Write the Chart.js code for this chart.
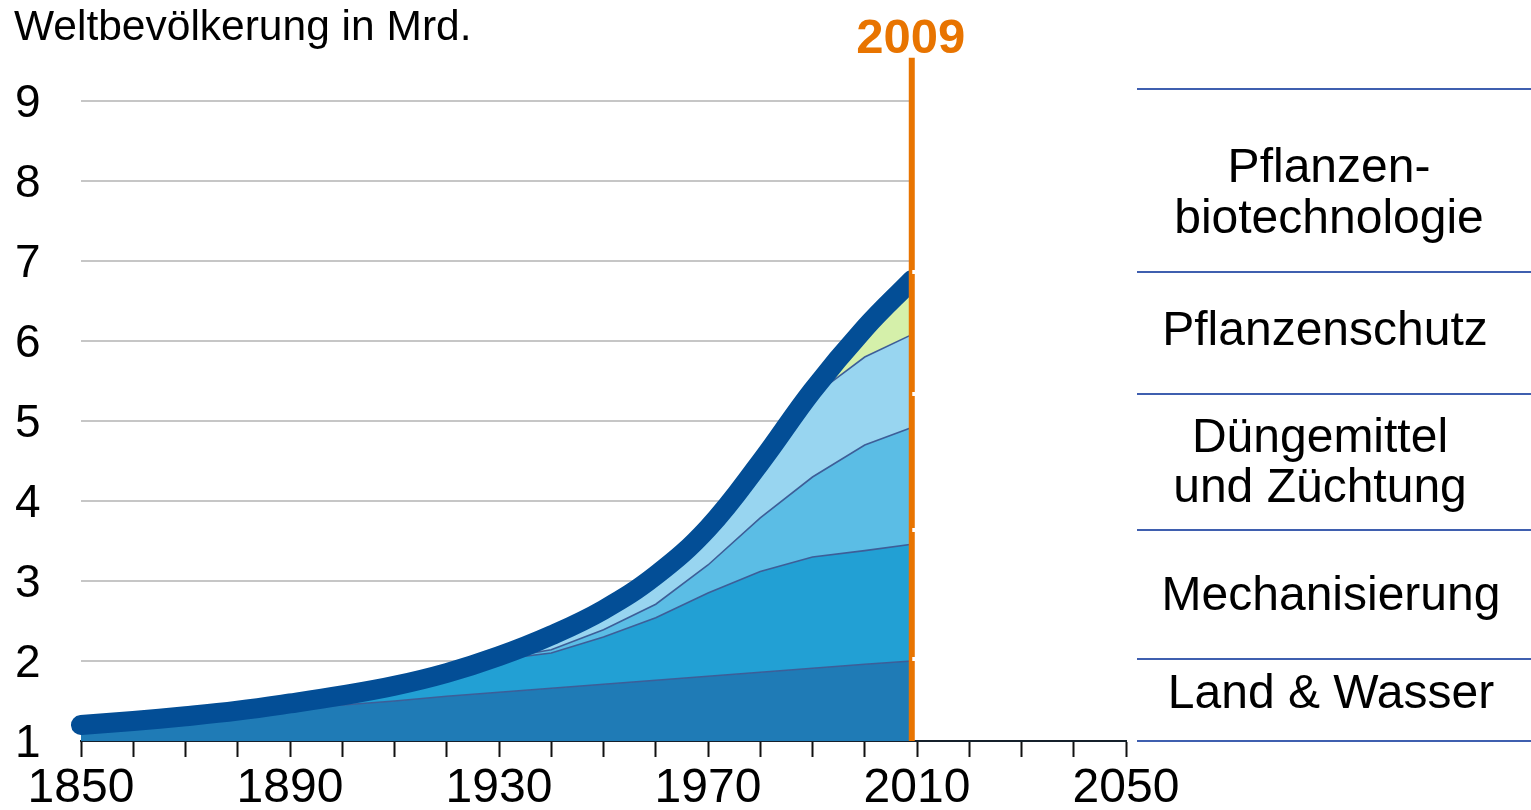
<!DOCTYPE html>
<html>
<head>
<meta charset="utf-8">
<script src="https://cdn.jsdelivr.net/npm/chart.js@4.4.1/dist/chart.umd.min.js"></script>
<style>
  html, body { margin: 0; padding: 0; background: #ffffff; }
  canvas { display: block; }
</style>
</head>
<body>
<canvas id="c" width="1531" height="810"></canvas>
<script>
// ---------------- data ----------------
const chartTitle = 'Weltbevölkerung in Mrd.';
const years = [1850, 1860, 1870, 1880, 1890, 1900, 1910, 1920, 1930, 1940, 1950, 1960, 1970, 1980, 1990, 2000, 2009];

// world population (thick line, Mrd.)
const population = [1.20, 1.25, 1.31, 1.38, 1.47, 1.57, 1.69, 1.85, 2.06, 2.32, 2.64, 3.07, 3.66, 4.48, 5.38, 6.16, 6.76];

// cumulative upper edges of the stacked contributions (Mrd.)
const landWater          = [1.10, 1.16, 1.22, 1.30, 1.40, 1.45, 1.50, 1.56, 1.61, 1.66, 1.71, 1.76, 1.81, 1.86, 1.91, 1.96, 2.00];
const mechanization      = [1.20, 1.25, 1.31, 1.38, 1.47, 1.57, 1.69, 1.85, 2.02, 2.10, 2.30, 2.54, 2.85, 3.12, 3.30, 3.38, 3.46];
const fertilizerBreeding = [1.20, 1.25, 1.31, 1.38, 1.47, 1.57, 1.69, 1.85, 2.03, 2.14, 2.39, 2.71, 3.20, 3.79, 4.30, 4.70, 4.92];
const cropProtection     = [1.20, 1.25, 1.31, 1.38, 1.47, 1.57, 1.69, 1.85, 2.06, 2.32, 2.57, 3.00, 3.55, 4.38, 5.31, 5.80, 6.08];
const plantBiotech       = population; // top of the last layer follows the population

const seriesNames = ['Land & Wasser', 'Mechanisierung', 'Düngemittel und Züchtung', 'Pflanzenschutz', 'Pflanzenbiotechnologie'];
const panelLabels = [['Pflanzen-', 'biotechnologie'], ['Pflanzenschutz'], ['Düngemittel', 'und Züchtung'], ['Mechanisierung'], ['Land & Wasser']];

const xTickYears  = [1850, 1860, 1870, 1880, 1890, 1900, 1910, 1920, 1930, 1940, 1950, 1960, 1970, 1980, 1990, 2000, 2010, 2020, 2030, 2040, 2050];
const xTickLabels = [1850, 1890, 1930, 1970, 2010, 2050];
const yTicks      = [1, 2, 3, 4, 5, 6, 7, 8, 9];
const markerYear  = 2009;
const markerLabel = '2009';

// ---------------- style / layout ----------------
const FONT = "'Liberation Sans', Arial, Helvetica, sans-serif";
const layerColors = ['#1F7BB6', '#22A0D4', '#5BBDE5', '#98D5F0', '#D5F0AA'];
const layerBorder = '#3D5E98';
const popColor = '#034E96';
const orange = '#E87400';
const panel = {
  left: 1137, right: 1531,
  centers: [1329, 1325, 1320, 1331, 1331],
  separators: [89, 272, 394, 530, 659, 741],
  baselines: [[182, 233], [345], [452, 502], [610], [708]],
  font: '48px ' + FONT
};

const toPts = arr => years.map((x, i) => ({ x, y: arr[i] }));
const layers = [landWater, mechanization, fertilizerBreeding, cropProtection, plantBiotech];

const datasets = [{
  label: 'Weltbevölkerung',
  data: toPts(population),
  borderColor: popColor,
  borderWidth: 20,
  borderCapStyle: 'round',
  borderJoinStyle: 'round',
  tension: 0.4,
  fill: false,
  pointRadius: 0,
  clip: false
}];
layers.forEach((arr, i) => {
  datasets.push({
    label: seriesNames[i],
    data: toPts(arr),
    fill: i === 0 ? 'start' : '-1',
    backgroundColor: layerColors[i],
    borderColor: i < 4 ? layerBorder : 'rgba(0,0,0,0)',
    borderWidth: i < 4 ? 1.6 : 0,
    pointRadius: 0,
    tension: i === 4 ? 0.4 : 0
  });
});

const decor = {
  id: 'decor',
  beforeDatasetsDraw(chart) {
    const { ctx, scales: { x, y } } = chart;
    const xr = x.getPixelForValue(markerYear);
    ctx.save();
    ctx.strokeStyle = '#C6C6C6';
    ctx.lineWidth = 2;
    yTicks.slice(1).forEach(v => {
      const py = Math.round(y.getPixelForValue(v));
      ctx.beginPath();
      ctx.moveTo(x.left, py);
      ctx.lineTo(xr, py);
      ctx.stroke();
    });
    ctx.restore();
  },
  beforeDatasetDraw(chart, args) {
    if (args.index === 0) {
      const { ctx, scales: { x } } = chart;
      const xr = x.getPixelForValue(markerYear);
      ctx.save();
      ctx.beginPath();
      ctx.rect(0, 0, xr - 2, chart.height);
      ctx.clip();
    }
  },
  afterDatasetDraw(chart, args) {
    if (args.index === 0) chart.ctx.restore();
  },
  afterDatasetsDraw(chart) {
    const { ctx, scales: { x, y } } = chart;
    const xr = x.getPixelForValue(markerYear);
    ctx.save();
    ctx.strokeStyle = orange;
    ctx.lineWidth = 6;
    ctx.beginPath();
    ctx.moveTo(xr, y.getPixelForValue(9.54));
    ctx.lineTo(xr, y.getPixelForValue(1));
    ctx.stroke();
    ctx.fillStyle = '#ffffff';
    panel.separators.slice(1, 5).forEach(sy => ctx.fillRect(xr + 0.5, sy - 2, 3.5, 4));
    ctx.fillStyle = orange;
    ctx.font = 'bold 49px ' + FONT;
    ctx.textAlign = 'center';
    ctx.textBaseline = 'alphabetic';
    ctx.fillText(markerLabel, xr - 1, 53);
    ctx.restore();
  },
  afterDraw(chart) {
    const { ctx } = chart;
    ctx.save();
    ctx.fillStyle = '#000';
    ctx.font = '42.5px ' + FONT;
    ctx.textAlign = 'left';
    ctx.textBaseline = 'alphabetic';
    ctx.fillText(chartTitle, 14, 40);
    ctx.strokeStyle = '#3F5FAF';
    ctx.lineWidth = 2;
    panel.separators.forEach(sy => {
      ctx.beginPath();
      ctx.moveTo(panel.left, sy);
      ctx.lineTo(panel.right, sy);
      ctx.stroke();
    });
    ctx.font = panel.font;
    ctx.textAlign = 'center';
    panelLabels.forEach((lines, i) => {
      lines.forEach((t, j) => ctx.fillText(t, panel.centers[i], panel.baselines[i][j]));
    });
    ctx.restore();
  }
};

new Chart(document.getElementById('c'), {
  type: 'line',
  data: { datasets },
  plugins: [decor],
  options: {
    responsive: false,
    animation: false,
    devicePixelRatio: 1,
    layout: { padding: { left: 15, right: 405, top: 101, bottom: 0 } },
    plugins: {
      legend: { display: false },
      tooltip: { enabled: false },
      title: { display: false },
      filler: { propagate: false }
    },
    scales: {
      x: {
        type: 'linear',
        min: 1850,
        max: 2050,
        z: 1,
        afterBuildTicks: s => { s.ticks = xTickYears.map(v => ({ value: v })); },
        afterFit: s => { s.height = 69; },
        ticks: {
          autoSkip: false,
          maxRotation: 0,
          padding: 3,
          color: '#000',
          font: { family: FONT, size: 48 },
          callback: v => (xTickLabels.includes(v) ? String(v) : '')
        },
        grid: { display: true, drawOnChartArea: false, drawTicks: true, tickLength: 16, tickWidth: 2, tickColor: '#111' },
        border: { display: true, color: '#15202B', width: 2 }
      },
      y: {
        min: 1,
        max: 9,
        afterBuildTicks: s => { s.ticks = yTicks.map(v => ({ value: v })); },
        afterFit: s => { s.width = 66; },
        ticks: {
          color: '#000',
          crossAlign: 'far',
          labelOffset: 3,
          font: { family: FONT, size: 46 }
        },
        grid: { display: false },
        border: { display: false }
      }
    }
  }
});
</script>
</body>
</html>
